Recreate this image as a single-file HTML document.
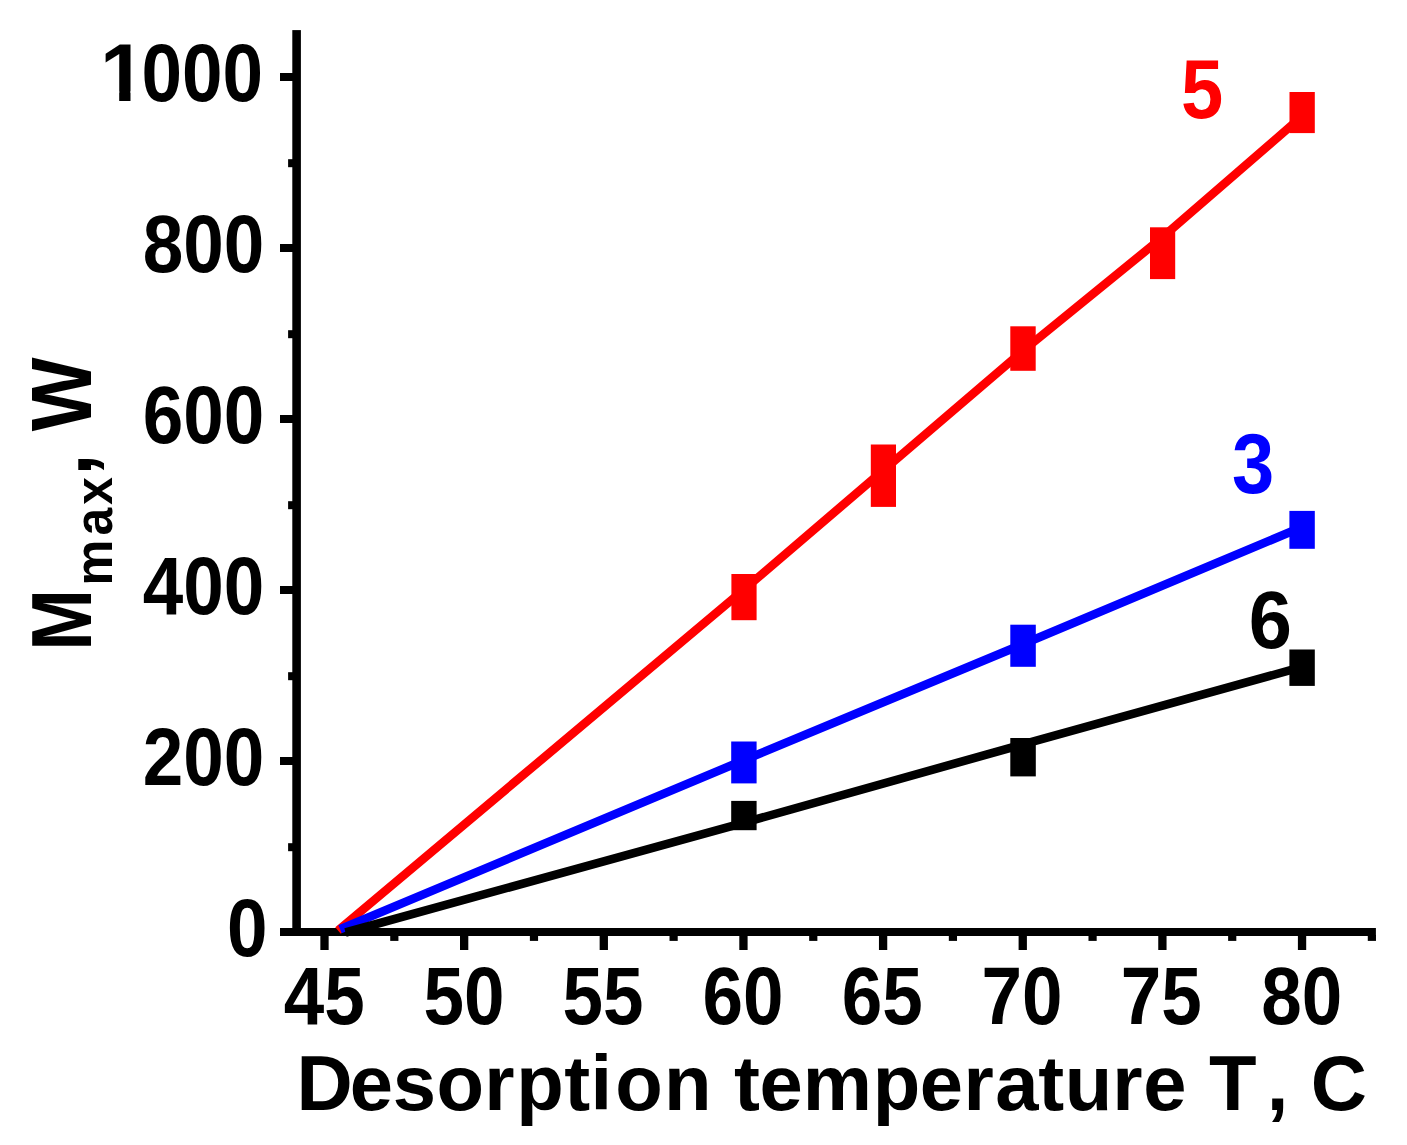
<!DOCTYPE html>
<html><head><meta charset="utf-8"><title>Mmax vs desorption temperature</title>
<style>
html,body{margin:0;padding:0;background:#fff;}
body{width:1407px;height:1145px;overflow:hidden;}
svg{display:block;}
text{font-family:"Liberation Sans",sans-serif;font-weight:bold;font-size:100px;font-kerning:none;white-space:pre;}
</style></head><body>
<svg width="1407" height="1145" viewBox="0 0 1407 1145" shape-rendering="geometricPrecision">
<rect width="1407" height="1145" fill="#fff"/>
<rect x="292.3" y="30.1" width="8.6" height="905.8" fill="#000"/>
<rect x="280" y="928" width="1095.9" height="8" fill="#000"/>
<rect x="280" y="928.00" width="13" height="8" fill="#000"/>
<rect x="288.1" y="843.20" width="5" height="8" fill="#000"/>
<rect x="280" y="757.00" width="13" height="8" fill="#000"/>
<rect x="288.1" y="672.20" width="5" height="8" fill="#000"/>
<rect x="280" y="586.00" width="13" height="8" fill="#000"/>
<rect x="288.1" y="501.20" width="5" height="8" fill="#000"/>
<rect x="280" y="415.00" width="13" height="8" fill="#000"/>
<rect x="288.1" y="330.20" width="5" height="8" fill="#000"/>
<rect x="280" y="244.00" width="13" height="8" fill="#000"/>
<rect x="288.1" y="159.20" width="5" height="8" fill="#000"/>
<rect x="280" y="73.00" width="13" height="8" fill="#000"/>
<rect x="320.35" y="935" width="8.3" height="15" fill="#000"/>
<rect x="390.22" y="935" width="8.2" height="5.9" fill="#000"/>
<rect x="460.00" y="935" width="8.3" height="15" fill="#000"/>
<rect x="529.88" y="935" width="8.2" height="5.9" fill="#000"/>
<rect x="599.65" y="935" width="8.3" height="15" fill="#000"/>
<rect x="669.52" y="935" width="8.2" height="5.9" fill="#000"/>
<rect x="739.30" y="935" width="8.3" height="15" fill="#000"/>
<rect x="809.17" y="935" width="8.2" height="5.9" fill="#000"/>
<rect x="878.95" y="935" width="8.3" height="15" fill="#000"/>
<rect x="948.82" y="935" width="8.2" height="5.9" fill="#000"/>
<rect x="1018.60" y="935" width="8.3" height="15" fill="#000"/>
<rect x="1088.48" y="935" width="8.2" height="5.9" fill="#000"/>
<rect x="1158.25" y="935" width="8.3" height="15" fill="#000"/>
<rect x="1228.12" y="935" width="8.2" height="5.9" fill="#000"/>
<rect x="1297.90" y="935" width="8.3" height="15" fill="#000"/>
<rect x="1367.78" y="935" width="8.2" height="5.9" fill="#000"/>
<polyline points="338.00,930.50 743.45,590.00 1022.75,351.03 1162.40,237.31 1302.05,116.33" fill="none" stroke="#ff0000" stroke-width="8.6" stroke-linejoin="miter"/>
<rect x="731.40" y="574.00" width="25.20" height="46.20" fill="#ff0000"/>
<rect x="870.80" y="444.50" width="25.20" height="62.40" fill="#ff0000"/>
<rect x="1010.30" y="326.30" width="25.40" height="44.50" fill="#ff0000"/>
<rect x="1150.00" y="227.30" width="25.20" height="51.80" fill="#ff0000"/>
<rect x="1289.50" y="92.00" width="25.30" height="41.10" fill="#ff0000"/>
<polyline points="340.10,929.20 743.45,760.32 1022.75,644.29 1302.05,527.07" fill="none" stroke="#0000ff" stroke-width="8.6" stroke-linejoin="miter"/>
<rect x="731.20" y="741.50" width="25.40" height="41.90" fill="#0000ff"/>
<rect x="1010.30" y="624.70" width="25.50" height="42.10" fill="#0000ff"/>
<rect x="1289.40" y="510.90" width="25.40" height="37.90" fill="#0000ff"/>
<polyline points="345.50,932.50 743.45,822.82 1022.75,744.41 1302.05,666.95" fill="none" stroke="#000000" stroke-width="8.6" stroke-linejoin="miter"/>
<rect x="731.20" y="800.90" width="25.40" height="29.30" fill="#000000"/>
<rect x="1010.30" y="738.00" width="25.50" height="38.40" fill="#000000"/>
<rect x="1289.40" y="649.50" width="25.40" height="36.40" fill="#000000"/>
<text transform="matrix(0.7290 0 0 0.8093 227.05 956.11)" fill="#000">0</text>
<text transform="matrix(0.7290 0 0 0.8093 142.66 784.71)" fill="#000">200</text>
<text transform="matrix(0.7290 0 0 0.8093 142.66 613.71)" fill="#000">400</text>
<text transform="matrix(0.7290 0 0 0.8093 142.66 442.71)" fill="#000">600</text>
<text transform="matrix(0.7290 0 0 0.8093 142.66 271.71)" fill="#000">800</text>
<text transform="matrix(0.7290 0 0 0.8093 99.97 100.71)"><tspan x="0" textLength="62.85" lengthAdjust="spacingAndGlyphs">1</tspan><tspan x="57.05">000</tspan></text>
<rect x="103.99" y="91.25" width="15.21" height="11.26" fill="#fff"/>
<rect x="130.50" y="91.25" width="13.50" height="11.26" fill="#fff"/>
<text transform="matrix(0.7290 0 0 0.8150 283.82 1024.20)" fill="#000">45</text>
<text transform="matrix(0.7290 0 0 0.8150 423.38 1024.20)" fill="#000">50</text>
<text transform="matrix(0.7290 0 0 0.8150 562.55 1024.20)" fill="#000">55</text>
<text transform="matrix(0.7290 0 0 0.8150 702.47 1024.20)" fill="#000">60</text>
<text transform="matrix(0.7290 0 0 0.8150 841.64 1024.20)" fill="#000">65</text>
<text transform="matrix(0.7290 0 0 0.8150 981.54 1024.20)" fill="#000">70</text>
<text transform="matrix(0.7290 0 0 0.8150 1120.70 1024.20)" fill="#000">75</text>
<text transform="matrix(0.7290 0 0 0.8150 1261.24 1024.20)" fill="#000">80</text>
<text transform="matrix(0.7597 0 0 0.8312 1181.06 118.09)" fill="#ff0000">5</text>
<text transform="matrix(0.7584 0 0 0.8443 1231.96 493.05)" fill="#0000ff">3</text>
<text transform="matrix(0.7758 0 0 0.8206 1248.76 648.30)" fill="#000000">6</text>
<text transform="matrix(0.7780 0 0 0.7878 0 1110.00)" x="381.23 449.44 504.84 561.13 622.59 663.72 725.26 759.08 790.95 853.43 914.52 943.38 976.17 1031.71 1121.81 1182.21 1238.40 1279.33 1334.51 1368.61 1429.53 1469.62 1525.23 1553.89 1628.17 1655.96 1684.72" y="0">Desorption temperature T, C</text>
<text transform="matrix(0 -0.7820 0.8445 0 91.20 646.00)"><tspan x="-5.97" textLength="79.07" lengthAdjust="spacingAndGlyphs">M</tspan><tspan font-size="63.65" dy="24.75"><tspan x="76.94" textLength="59.15" lengthAdjust="spacingAndGlyphs">m</tspan><tspan x="141.36 180.77">ax</tspan></tspan><tspan x="218.15 245.93 274.71" dy="-24.75">, W</tspan></text>
</svg>
</body></html>
